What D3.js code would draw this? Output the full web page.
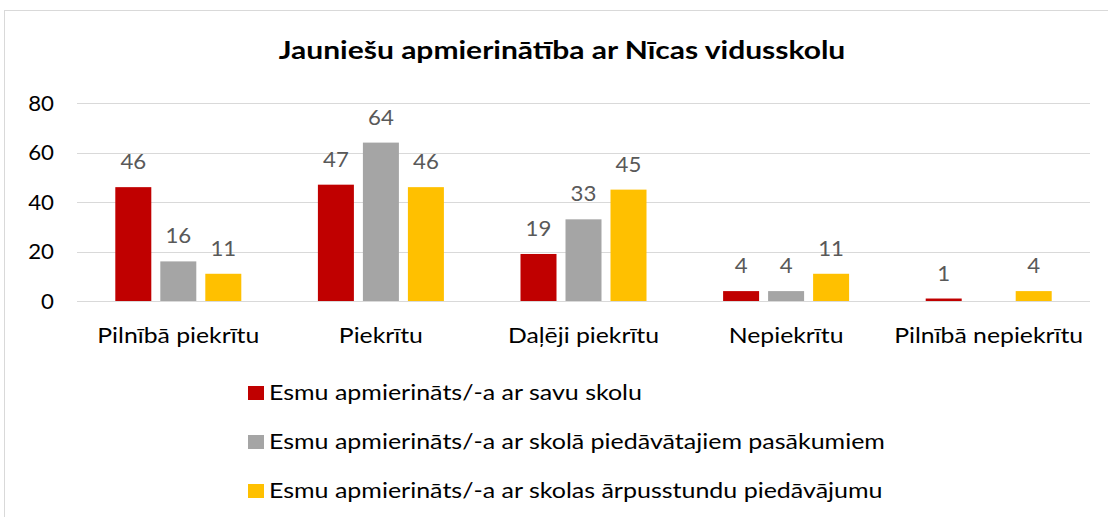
<!DOCTYPE html>
<html><head><meta charset="utf-8">
<script src="https://cdn.jsdelivr.net/npm/d3@7"></script>
<style>body{margin:0;background:#fff}svg{display:block}</style>
</head><body><svg id="c" width="1108" height="517"></svg>
<script>
const title = "Jauniešu apmierinātība ar Nīcas vidusskolu";
const categories = ["Pilnībā piekrītu","Piekrītu","Daļēji piekrītu","Nepiekrītu","Pilnībā nepiekrītu"];
const seriesNames = ["Esmu apmierināts/-a ar savu skolu","Esmu apmierināts/-a ar skolā piedāvātajiem pasākumiem","Esmu apmierināts/-a ar skolas ārpusstundu piedāvājumu"];
const seriesRed = [46,47,19,4,1];
const seriesGray = [16,64,33,4,null];
const seriesYellow = [11,46,45,11,4];
const yTicks = [0,20,40,60,80];
const colors = ["#C00000","#A5A5A5","#FFC000"];
const series = [seriesRed, seriesGray, seriesYellow];

const svg = d3.select("#c");
const font = "Lato, Carlito, Calibri, sans-serif";
svg.append("rect").attr("x",4.5).attr("y",10.5).attr("width",1110).attr("height",520)
  .attr("fill","#fff").attr("stroke","#D9D9D9").attr("stroke-width",1);

function txt(parent, x, y, s, opts){
  const t = parent.append("text")
    .attr("transform",`translate(${x},${y}) scale(${opts.sx||1},1)`)
    .attr("text-anchor",opts.anchor||"start")
    .attr("font-family",font).attr("font-size",opts.size||20)
    .attr("font-weight",opts.weight||"normal").attr("fill",opts.fill||"#000").text(s);
  return t;
}

const L=77, R=1090, T=103, B=301;
const x = d3.scaleBand().domain(categories).range([L,R]).paddingInner(0).paddingOuter(0);
const y = d3.scaleLinear().domain([0,80]).range([B,T]);
const barW = 36, step = 45;

txt(svg, 562, 59, title, {anchor:"middle", size:24, weight:"bold", sx:1.25});

const g = svg.append("g");
g.selectAll("line.grid").data(yTicks).join("line").attr("class","grid")
  .attr("x1",L).attr("x2",R).attr("y1",d=>Math.round(y(d))+0.5).attr("y2",d=>Math.round(y(d))+0.5)
  .attr("stroke","#D9D9D9").attr("stroke-width",1);
yTicks.forEach(d=>txt(g, 54, y(d)+7.5, d, {anchor:"end", size:21, sx:1.06}));

series.forEach((s,si)=>{
  const off = (si-1)*step - barW/2;
  const data = categories.map((c,i)=>({c,v:s[i]})).filter(d=>d.v!==null);
  g.selectAll("rect.s"+si).data(data).join("rect").attr("class","s"+si)
    .attr("x",d=>x(d.c)+x.bandwidth()/2+off).attr("width",barW)
    .attr("y",d=>y(d.v)).attr("height",d=>B-y(d.v)).attr("fill",colors[si]);
  data.forEach(d=>txt(g, x(d.c)+x.bandwidth()/2+off+barW/2, y(d.v)-18, d.v,
    {anchor:"middle", size:21, sx:1.06, fill:"#595959"}));
});

categories.forEach(c=>txt(g, x(c)+x.bandwidth()/2, 343, c, {anchor:"middle", size:21, sx:1.18}));

const lg = svg.append("g");
seriesNames.forEach((n,i)=>{
  const yy = 400 + i*49;
  lg.append("rect").attr("x",248).attr("y",yy-14).attr("width",16).attr("height",14).attr("fill",colors[i]);
  txt(lg, 269, yy, n, {size:21, sx:1.19});
});
</script></body></html>
